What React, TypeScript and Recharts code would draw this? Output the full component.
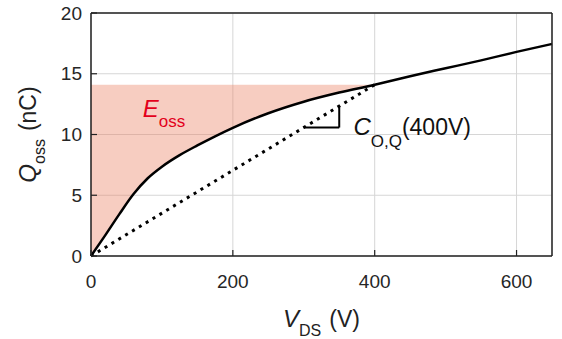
import React from "react";
import {
  ComposedChart,
  Line,
  Area,
  XAxis,
  YAxis,
  CartesianGrid,
  ReferenceLine,
  ReferenceDot,
} from "recharts";

// Q_oss(V_DS) curve
const vds = [0, 20, 40, 60, 80, 100, 125, 150, 175, 200, 250, 300, 350, 400, 450, 500, 550, 600, 650];
const qoss = [0, 1.7, 3.45, 5.1, 6.4, 7.35, 8.3, 9.1, 9.85, 10.55, 11.75, 12.7, 13.45, 14.1, 14.8, 15.45, 16.1, 16.8, 17.45];

const xTicks = [0, 200, 400, 600];
const yTicks = [0, 5, 10, 15, 20];

const vRef = 400;
const qRef = qoss[vds.indexOf(vRef)];
const slope = qRef / vRef;

const curve = vds.map((v, i) => ({
  v,
  q: qoss[i],
  fill: v <= vRef ? [qoss[i], qRef] : null,
}));
const chord = [
  { v: 0, c: 0 },
  { v: vRef, c: qRef },
];

const FONT = "'Liberation Sans', Arial, Helvetica, sans-serif";

const XLabel = ({ viewBox }: any) => {
  const cx = viewBox.x + viewBox.width / 2;
  return (
    <text x={cx} y={327} textAnchor="middle" fontFamily={FONT} fill="#222">
      <tspan fontSize={24} fontStyle="italic">V</tspan>
      <tspan fontSize={16} dy={9}>DS</tspan>
      <tspan fontSize={23} dy={-9} dx={8}>(V)</tspan>
    </text>
  );
};

const YLabel = ({ viewBox }: any) => {
  const cy = viewBox.y + viewBox.height / 2;
  return (
    <text
      x={36}
      y={cy}
      transform={`rotate(-90 36 ${cy})`}
      textAnchor="middle"
      fontFamily={FONT}
      fill="#222"
    >
      <tspan fontSize={24} fontStyle="italic">Q</tspan>
      <tspan fontSize={16} dy={9}>oss</tspan>
      <tspan fontSize={23} dy={-9} dx={8}>(nC)</tspan>
    </text>
  );
};

const EossLabel = (p: any) => (
  <text x={p.cx} y={p.cy} fontFamily={FONT} fill="#e3001b">
    <tspan fontSize={24} fontStyle="italic">E</tspan>
    <tspan fontSize={17} dy={10}>oss</tspan>
  </text>
);

const CoqLabel = (p: any) => (
  <text x={p.cx} y={p.cy} fontFamily={FONT} fill="#111">
    <tspan fontSize={24} fontStyle="italic">C</tspan>
    <tspan fontSize={17} dy={12}>O,Q</tspan>
    <tspan fontSize={23} dy={-12}>(400V)</tspan>
  </text>
);

const tickStyle = { fontSize: 19, fontFamily: FONT, fill: "#262626" };

export default function App() {
  return (
    <div style={{ position: "absolute", left: 0, top: 0, background: "#fff" }}>
      <ComposedChart
        width={562}
        height={339}
        data={curve}
        margin={{ top: 12, right: 9, left: 0, bottom: 0 }}
      >
        <CartesianGrid xAxisId="b" yAxisId="l" stroke="#d6d6d6" strokeWidth={1} />
        <XAxis
          xAxisId="b"
          dataKey="v"
          type="number"
          domain={[0, 650]}
          ticks={xTicks}
          height={83}
          tickSize={-6}
          tickMargin={25}
          axisLine={{ stroke: "#222", strokeWidth: 1.5 }}
          tickLine={{ stroke: "#222", strokeWidth: 1.2 }}
          tick={tickStyle}
          label={<XLabel />}
        />
        <XAxis
          xAxisId="t"
          orientation="top"
          dataKey="v"
          type="number"
          domain={[0, 650]}
          ticks={xTicks}
          height={1}
          tickSize={-6}
          tick={false}
          axisLine={{ stroke: "#222", strokeWidth: 1.5 }}
          tickLine={{ stroke: "#222", strokeWidth: 1.2 }}
        />
        <YAxis
          yAxisId="l"
          type="number"
          domain={[0, 20]}
          ticks={yTicks}
          width={91}
          tickSize={-6}
          tickMargin={15}
          axisLine={{ stroke: "#222", strokeWidth: 1.5 }}
          tickLine={{ stroke: "#222", strokeWidth: 1.2 }}
          tick={tickStyle}
          label={<YLabel />}
        />
        <YAxis
          yAxisId="r"
          orientation="right"
          type="number"
          domain={[0, 20]}
          ticks={yTicks}
          width={1}
          tickSize={-6}
          tick={false}
          axisLine={{ stroke: "#222", strokeWidth: 1.5 }}
          tickLine={{ stroke: "#222", strokeWidth: 1.2 }}
        />
        <Area
          xAxisId="b"
          yAxisId="l"
          dataKey="fill"
          type="monotone"
          stroke="none"
          fill="rgb(235,130,100)"
          fillOpacity={0.4}
          isAnimationActive={false}
          activeDot={false}
        />
        <Line
          xAxisId="b"
          yAxisId="l"
          data={chord}
          dataKey="c"
          type="linear"
          stroke="#000"
          strokeWidth={3}
          strokeDasharray="3 5"
          dot={false}
          isAnimationActive={false}
        />
        <Line
          xAxisId="b"
          yAxisId="l"
          dataKey="q"
          type="monotone"
          stroke="#000"
          strokeWidth={2.5}
          dot={false}
          isAnimationActive={false}
        />
        <ReferenceLine
          xAxisId="b"
          yAxisId="l"
          segment={[
            { x: 300, y: 300 * slope },
            { x: 350, y: 300 * slope },
          ]}
          stroke="#000"
          strokeWidth={2}
        />
        <ReferenceLine
          xAxisId="b"
          yAxisId="l"
          segment={[
            { x: 350, y: 300 * slope },
            { x: 350, y: 350 * slope },
          ]}
          stroke="#000"
          strokeWidth={2}
        />
        <ReferenceDot xAxisId="b" yAxisId="l" x={73} y={11.45} shape={EossLabel} />
        <ReferenceDot xAxisId="b" yAxisId="l" x={370} y={10.0} shape={CoqLabel} />
      </ComposedChart>
    </div>
  );
}
